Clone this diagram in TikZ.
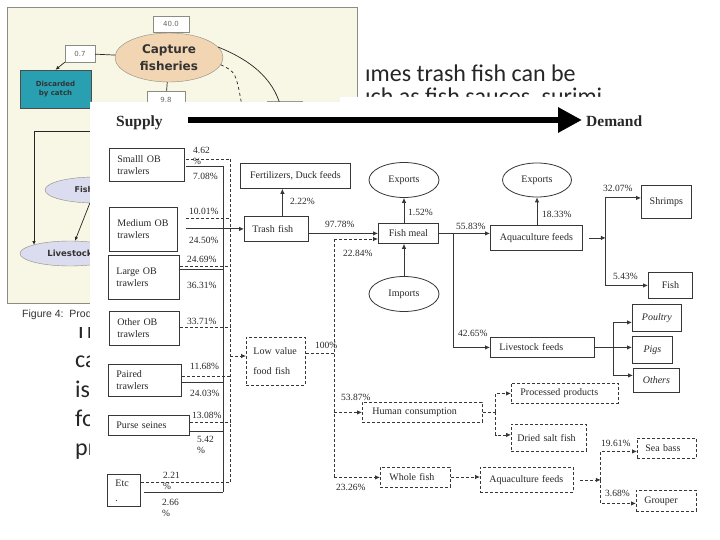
\documentclass[tikz,border=0pt]{standalone}
\usepackage{fontspec}
\setmainfont{Liberation Serif}
\newfontfamily\slidefont{Carlito}
\newfontfamily\figfont{DejaVu Sans}
\newfontfamily\capfont{Liberation Sans}
\usetikzlibrary{arrows.meta,shapes.geometric,positioning}

\definecolor{panelbg}{RGB}{248,246,228}
\definecolor{panelline}{RGB}{140,140,130}
\definecolor{peach}{RGB}{242,213,178}
\definecolor{tealbox}{RGB}{40,160,178}
\definecolor{lavender}{RGB}{220,220,240}
\definecolor{fgline}{RGB}{55,55,55}
\definecolor{fgtext}{RGB}{40,40,40}

\newcommand\fgfont{\fontsize{10}{12}\selectfont}
\newcommand\pctfont{\fontsize{9.5}{11}\selectfont}

\begin{document}
\begin{tikzpicture}[x=1pt,y=-1pt]
      %styles for both figures
      \tikzset{
        slidetxt/.style={font=\slidefont\fontsize{24}{29}\selectfont, text=black!85, anchor=base west, inner sep=0pt},
        numbox/.style={draw=panelline, fill=white, minimum width=36pt, minimum height=16pt, inner sep=0pt, font=\figfont\fontsize{7}{8}\selectfont, text=black!60},
        bgarr/.style={draw=black!85, line width=0.7pt, -{Latex[length=4pt,width=3.5pt]}},
        box/.style={draw=fgline, line width=0.8pt, rectangle, font=\fgfont, text=fgtext, inner xsep=8pt, inner ysep=2pt},
        lbox/.style={box, align=left},
        dbox/.style={box, dash pattern=on 3pt off 2pt},
        oval/.style={box, ellipse, inner sep=1pt},
        pct/.style={font=\pctfont, text=fgtext, inner sep=0pt, anchor=west, align=left},
        sline/.style={draw=fgline, line width=0.8pt},
        dline/.style={sline, dash pattern=on 3pt off 2pt},
        arr/.style={sline, -{Latex[length=5pt,width=4.5pt]}},
        darr/.style={dline, -{Latex[length=5pt,width=4.5pt]}},
      }
      \useasboundingbox (0,0) rectangle (720,540);
      \fill[white] (0,0) rectangle (720,540);

      %slide text behind the pictures
      \node[slidetxt] (line1) at (365,82) {ımes trash fish can be};
      \node[slidetxt] (line2) at (365,105) {ıch as fish sauces, surimi};
      \node[slidetxt] (lineA) at (75,338) {Th};
      \node[slidetxt] (lineB) at (75,367) {ca};
      \node[slidetxt] (lineC) at (75,397) {is};
      \node[slidetxt] (lineD) at (75,426) {fo};
      \node[slidetxt] (lineE) at (75,455) {pr};

      %Figure 4 - background picture
      \fill[white] (0,0) rectangle (362,327);
      \draw[panelline, fill=panelbg] (7,7) rectangle (357,303);
      \node[ellipse, draw=panelline, fill=peach, minimum width=108pt, minimum height=49pt, inner sep=0pt,
            font=\figfont\bfseries\fontsize{12}{17}\selectfont, text=black!80, align=center] (capture) at (169,57.5) {Capture\\fisheries};
      \node[numbox] (n40) at (171,24) {40.0};
      \node[numbox, minimum width=30pt, minimum height=17pt] (n07) at (80,53.5) {0.7};
      \node[numbox, minimum width=38pt, minimum height=17pt] (n98) at (166,99.5) {9.8};
      \node[numbox, minimum width=35pt, minimum height=17pt] (nhid) at (284.5,110) {};
      \node[draw=black!70, fill=tealbox, minimum width=71pt, minimum height=38pt, inner sep=0pt, align=center,
            font=\figfont\bfseries\fontsize{7}{9}\selectfont, text=black!80] (discard) at (55.5,89) {Discarded\\by catch};
      \node[ellipse, draw=panelline, fill=lavender, minimum width=100pt, minimum height=26pt, inner sep=0pt,
            font=\figfont\bfseries\fontsize{8}{9}\selectfont, text=black!80] (fishbg) at (95,190) {Fishmeal};
      \node[ellipse, draw=panelline, fill=lavender, minimum width=100pt, minimum height=25pt, inner sep=0pt,
            font=\figfont\bfseries\fontsize{8.5}{9}\selectfont, text=black!80] (livebg) at (70,253.5) {Livestock};
      \coordinate (lvTop) at (120,131);
      \coordinate (lvEnd) at (34,245);
      \draw[black!85, line width=0.7pt] (n07) -- (capture);
      \draw[bgarr] (n07.south west) -- (discard.north);
      \draw[black!85, line width=0.7pt] (capture) -- (n98);
      \draw[black!85, line width=0.7pt] (capture.12) .. controls (255,62) and (276,82) .. (282,112);
      \draw[black!85, line width=0.7pt, dashed] (capture.-8) .. controls (236,72) .. (243,112);
      \draw[bgarr] (lvTop) -| (lvEnd);
      \draw[bgarr] (fishbg) -- (livebg);
      \node[font=\capfont\fontsize{10.5}{12}\selectfont, text=black!80, anchor=base west, inner sep=0pt] (caption) at (22,317) {Figure 4:\ \ Prod};

      %supply chain - front picture
      \fill[white] (90,102) -- (340,102) -- (340,97) -- (720,97) -- (720,540) -- (90,540) -- cycle;
      \node[font=\bfseries\fontsize{15.5}{17}\selectfont, text=fgtext, anchor=base west, inner sep=0pt] (supply) at (116,127) {Supply};
      \node[font=\bfseries\fontsize{15.5}{17}\selectfont, text=fgtext, anchor=base west, inner sep=0pt] (demand) at (586,127) {Demand};
      \draw[line width=6pt, black, -{Triangle[length=24pt,width=24pt]}, shorten <=25pt, shorten >=4pt] (supply.east |- 0,120) -- (demand.west |- 0,120);

      %catch sources
      \node[lbox, text width=59pt, minimum height=33pt, anchor=north west] (small) at (109,148) {Smalll OB\\trawlers};
      \node[lbox, text width=52pt, minimum height=44pt, anchor=north west] (medium) at (109,207) {Medium OB\\trawlers\\[8pt]};
      \node[lbox, text width=55pt, minimum height=44pt, anchor=north west] (large) at (108,255) {Large OB\\trawlers};
      \node[lbox, text width=54pt, minimum height=34pt, anchor=north west] (other) at (109,311) {Other OB\\trawlers};
      \node[lbox, text width=57pt, minimum height=32pt, anchor=north west] (paired) at (108,364) {Paired\\trawlers};
      \node[lbox, text width=65pt, minimum height=20pt, anchor=north west] (purse) at (108,415) {Purse seines};
      \node[lbox, text width=17pt, minimum height=32pt, anchor=north west] (etc) at (107,474) {Etc\\[3pt].};

      %collector bars
      \coordinate (solidTop) at (223,166);
      \coordinate (solidBot) at (223,492);
      \coordinate (dashTop) at (230,159);
      \coordinate (dashBot) at (230,482);
      \draw[sline] (solidTop) -- (solidBot);
      \draw[dline] (dashTop) -- (dashBot);

      \node[lbox, text width=48pt, minimum height=25pt, anchor=north west, inner xsep=8pt] (trash) at (244,216) {Trash fish};
      \node[box, minimum width=110pt, minimum height=25pt, anchor=north west] (fert) at (240,163) {Fertilizers, Duck feeds};
      \node[dbox, align=left, text width=45pt, inner xsep=7pt, minimum height=48pt, anchor=north west] (lowval) at (246,337) {Low value\\[8pt]food fish};

      %lines from the sources
      \draw[dline, shorten <=1pt] (small.east |- dashTop) -- (dashTop);
      \draw[sline, shorten <=1pt] (small.east |- solidTop) -- (solidTop);
      \draw[dline, shorten <=8pt] (medium.east |- 0,218) -- (dashTop |- 0,218);
      \draw[arr, shorten <=8pt] (medium.east |- trash.west) -- (trash.west);
      \draw[dline] (large.east |- 0,266) -- (dashTop |- 0,266);
      \draw[sline] (large.east |- 0,269) -- (solidTop |- 0,269);
      \draw[dline] (other.east |- 0,327) -- (dashTop |- 0,327);
      \draw[dline] (paired.east |- 0,376) -- (dashTop |- 0,376);
      \draw[sline] (paired.east |- 0,382) -- (solidTop |- 0,382);
      \draw[dline] (purse.east |- 0,422) -- (dashTop |- 0,422);
      \draw[sline] (purse.east |- 0,431) -- (solidTop |- 0,431);
      \draw[dline] (etc.east |- dashBot) -- (dashBot);
      \draw[sline, shorten <=3pt] (etc.east |- solidBot) -- (solidBot);
      \draw[darr] (dashTop |- 0,356) -- (lowval.west |- 0,356);

      \node[pct, anchor=north west] (pSmallD) at (193,147) {\fontsize{9.5}{10}\selectfont 4.62\\\%};
      \node[pct] (pSmallS) at (193,176) {7.08\%};
      \node[pct] (pMedD) at (189,211) {10.01\%};
      \node[pct] (pMedS) at (189,240) {24.50\%};
      \node[pct] (pLarD) at (187,259) {24.69\%};
      \node[pct] (pLarS) at (187,285) {36.31\%};
      \node[pct] (pOthD) at (187,321) {33.71\%};
      \node[pct] (pPaiD) at (190,366) {11.68\%};
      \node[pct] (pPaiS) at (190,393) {24.03\%};
      \node[pct] (pPurD) at (192,415) {13.08\%};
      \node[pct, anchor=north west] (pPurS) at (197,436) {5.42\\\%};
      \node[pct, anchor=north west] (pEtcD) at (163,472) {2.21\\\%};
      \node[pct, anchor=north west] (pEtcS) at (162,499) {2.66\\\%};

      %fish meal
      \node[box, minimum width=60pt, minimum height=20pt, anchor=north west] (fishmeal) at (378,223) {Fish meal};
      \node[oval, minimum width=70pt, minimum height=35pt] (exp1) at (404,180) {Exports};
      \node[oval, minimum width=70pt, minimum height=35pt] (imp) at (404,294) {Imports};
      \draw[arr] ([xshift=6pt]trash.north) -- ([xshift=6pt]trash.north |- fert.south);
      \draw[arr] (trash.east |- fishmeal.west) -- (fishmeal.west);
      \draw[arr] (fishmeal.north -| exp1) -- (exp1.south);
      \draw[arr] (imp.north) -- (imp.north |- fishmeal.south);
      \node[pct] (p222) at (290,201) {2.22\%};
      \node[pct] (p9778) at (325,224) {97.78\%};
      \node[pct] (p152) at (408,212) {1.52\%};

      %low value food fish
      \coordinate (hcTop) at (334,239);
      \draw[dline] (lowval.east |- 0,353) -- (hcTop |- 0,353);
      \draw[darr] (hcTop) -- (hcTop -| fishmeal.west);
      \node[pct] (p100) at (315,345) {100\%};
      \node[pct] (p2284) at (343,253) {22.84\%};

      %aquaculture and livestock
      \node[box, minimum width=92pt, minimum height=25pt, anchor=north west] (aqua) at (490,225) {Aquaculture feeds};
      \node[oval, minimum width=69pt, minimum height=34pt] (exp2) at (537,180) {Exports};
      \node[box, minimum width=50pt, minimum height=33pt, anchor=north west] (shrimps) at (641,185) {Shrimps};
      \node[box, minimum width=44pt, minimum height=26pt, anchor=north west] (fish) at (648,272) {Fish};
      \node[lbox, text width=86pt, inner xsep=9pt, minimum height=20pt, anchor=north west] (livefeed) at (490,337) {Livestock feeds};
      \node[box, minimum width=49pt, minimum height=27pt, anchor=north west, font=\fgfont\itshape] (poultry) at (632,304) {Poultry};
      \node[box, minimum width=40pt, minimum height=27pt, anchor=north west, font=\fgfont\itshape] (pigs) at (632,336) {Pigs};
      \node[box, minimum width=46pt, minimum height=24pt, anchor=north west, font=\fgfont\itshape] (others) at (633,368) {Others};

      \path (fishmeal.east) ++(15,0) coordinate (fmSplit);
      \draw[arr] (fishmeal.east) -- (fishmeal.east -| aqua.west);
      \draw[arr] (fmSplit) |- (livefeed.west);
      \draw[arr] (aqua.north -| exp2) -- (exp2.south);
      \path (aqua.east) ++(23,0) coordinate (aqSplit);
      \draw[arr, shorten <=6pt] (aqua.east) -- (aqSplit);
      \draw[arr] (aqSplit) |- ([yshift=4pt]shrimps.west);
      \draw[arr] (aqSplit) |- (fish.west);
      \path (livefeed.east) ++(19,0) coordinate (lfSplit);
      \draw[sline] (livefeed.east) -- (lfSplit);
      \draw[arr] (lfSplit) |- ([yshift=-4.5pt]poultry.west);
      \draw[arr] (lfSplit) |- ([yshift=2.5pt]pigs.west);
      \draw[arr] (lfSplit) |- ([yshift=5pt]others.west);
      \node[pct] (p5583) at (456,226) {55.83\%};
      \node[pct] (p4265) at (458,333) {42.65\%};
      \node[pct] (p1833) at (542,214) {18.33\%};
      \node[pct] (p3207) at (603,188) {32.07\%};
      \node[pct] (p543) at (613,276) {5.43\%};

      %human consumption and whole fish
      \node[dbox, align=left, text width=100pt, inner xsep=10pt, minimum height=20pt, anchor=north west] (human) at (362,402) {Human consumption};
      \node[dbox, align=left, text width=89pt, inner xsep=9pt, minimum height=20pt, anchor=north west] (processed) at (511,383) {Processed products};
      \node[dbox, align=left, text width=63pt, inner xsep=6pt, minimum height=27pt, anchor=north west] (dried) at (511,424) {Dried salt fish};
      \node[dbox, align=left, text width=52pt, inner xsep=9pt, minimum height=20pt, anchor=north west] (whole) at (380,467) {Whole fish};
      \node[dbox, align=left, text width=75pt, inner xsep=9pt, minimum height=25pt, anchor=north west] (aqua2) at (480,467) {Aquaculture feeds};
      \node[dbox, align=left, text width=43pt, inner xsep=8pt, minimum height=20pt, anchor=north west] (seabass) at (637,438) {Sea bass};
      \node[dbox, align=left, text width=44pt, inner xsep=8pt, minimum height=21pt, anchor=north west] (grouper) at (636,490) {Grouper};

      \draw[dline] (hcTop) -- (hcTop |- whole.west);
      \draw[darr] (hcTop |- human.west) -- (human.west);
      \draw[darr] (hcTop |- whole.west) -- (whole.west);
      \path (human.east) ++(13,0) coordinate (hcSplit);
      \draw[dline] (human.east) -- (hcSplit);
      \draw[darr] (hcSplit) |- (processed.west);
      \draw[darr] (hcSplit) |- ([yshift=3pt]dried.west);
      \draw[darr] (whole.east |- 0,477) -- (aqua2.west |- 0,477);
      \path (aqua2.east) ++(27,0) coordinate (a2Split);
      \draw[darr, shorten <=6pt] (aqua2.east) -- (a2Split);
      \draw[darr] (a2Split) |- ([yshift=-3pt]seabass.west);
      \draw[darr] (a2Split) |- ([yshift=-2.5pt]grouper.west);
      \node[pct] (p5387) at (341,397) {53.87\%};
      \node[pct] (p2326) at (336,487) {23.26\%};
      \node[pct] (p1961) at (601,443) {19.61\%};
      \node[pct] (p368) at (605,493) {3.68\%};
\end{tikzpicture}
\end{document}
